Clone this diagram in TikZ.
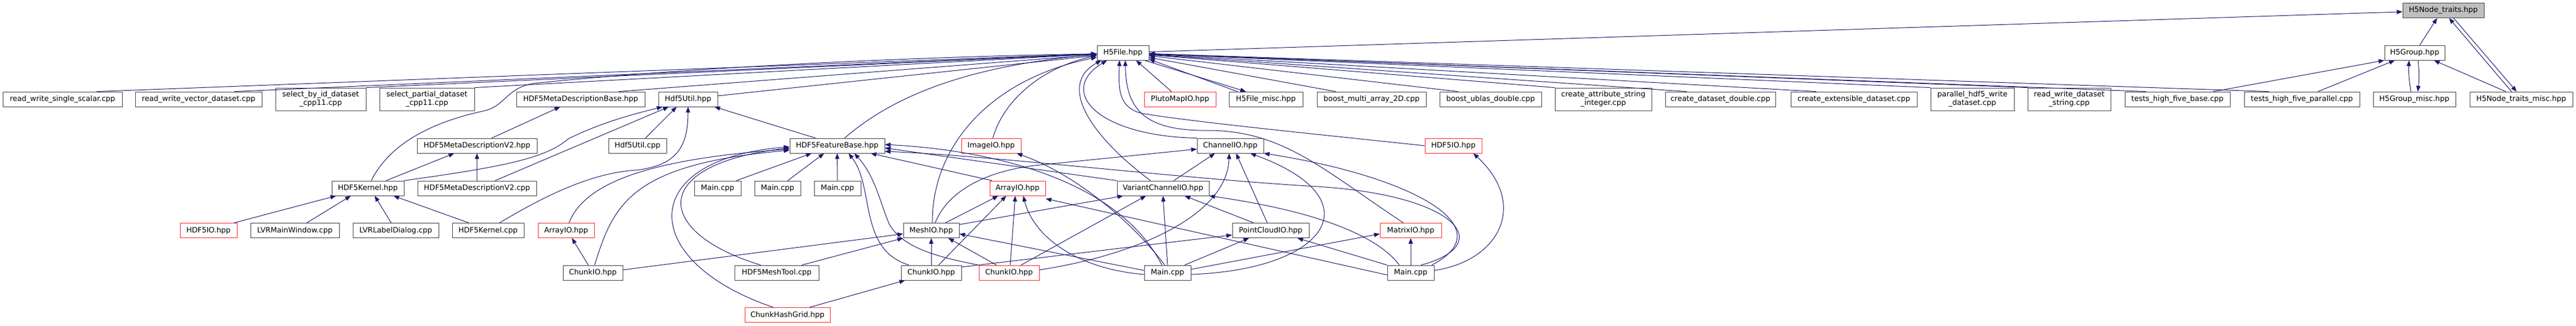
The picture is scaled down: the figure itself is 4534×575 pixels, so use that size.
\documentclass[tikz,border=0pt]{standalone}
\usepackage{fontspec}
\setmainfont{DejaVu Sans}
\usetikzlibrary{arrows.meta}
\definecolor{edgeblue}{RGB}{25,25,112}
\definecolor{boxgray}{RGB}{64,64,64}
\definecolor{curfill}{RGB}{191,191,191}
\definecolor{truncred}{RGB}{255,40,40}
\begin{document}
\begin{tikzpicture}[x=1pt,y=1pt,
  box/.style={draw=boxgray, fill=white, line width=0.9pt, minimum height=26pt, inner sep=0pt,
              font=\fontsize{13}{15}\selectfont, align=center},
  redbox/.style={box, draw=truncred},
  twoline/.style={minimum height=40pt},
  e/.style={draw=edgeblue, line width=1pt, -{Triangle[length=10pt,width=7.5pt]}}]
\useasboundingbox (0,0) rectangle (4534,-575);
\fill[white] (0,0) rectangle (4534,-575);

% row 0
\node[box, fill=curfill, minimum width=143pt] (traits) at (4300.5,-18.5) {H5Node\_traits.hpp};
% row 1
\node[box, minimum width=91pt] (H5File) at (1976.5,-93) {H5File.hpp};
\node[box, minimum width=106pt] (H5Group) at (4250,-93) {H5Group.hpp};
% row 2
\node[box, minimum width=210pt] (rwss) at (110,-175) {read\_write\_single\_scalar.cpp};
\node[box, minimum width=223pt] (rwvd) at (349.5,-175) {read\_write\_vector\_dataset.cpp};
\node[box, twoline, minimum width=159pt] (sbid) at (564.5,-175) {select\_by\_id\_dataset\\\_cpp11.cpp};
\node[box, twoline, minimum width=167pt] (spd) at (751.5,-175) {select\_partial\_dataset\\\_cpp11.cpp};
\node[box, minimum width=226pt] (Base) at (1022,-175) {HDF5MetaDescriptionBase.hpp};
\node[box, minimum width=104pt] (Util) at (1211,-175) {Hdf5Util.hpp};
\node[redbox, minimum width=126pt] (Pluto) at (2077,-175) {PlutoMapIO.hpp};
\node[box, minimum width=130pt] (Fmisc) at (2228,-175) {H5File\_misc.hpp};
\node[box, minimum width=192pt] (bma) at (2414,-175) {boost\_multi\_array\_2D.cpp};
\node[box, minimum width=179pt] (bud) at (2623.5,-175) {boost\_ublas\_double.cpp};
\node[box, twoline, minimum width=170pt] (cas) at (2822,-175) {create\_attribute\_string\\\_integer.cpp};
\node[box, minimum width=194pt] (cdd) at (3028,-175) {create\_dataset\_double.cpp};
\node[box, minimum width=222pt] (ced) at (3263,-175) {create\_extensible\_dataset.cpp};
\node[box, twoline, minimum width=147pt] (phw) at (3471.5,-175) {parallel\_hdf5\_write\\\_dataset.cpp};
\node[box, twoline, minimum width=146pt] (rwds) at (3642,-175) {read\_write\_dataset\\\_string.cpp};
\node[box, minimum width=185pt] (thfb) at (3832.5,-175) {tests\_high\_five\_base.cpp};
\node[box, minimum width=203pt] (thfp) at (4051.5,-175) {tests\_high\_five\_parallel.cpp};
\node[box, minimum width=145pt] (Gmisc) at (4249.5,-175) {H5Group\_misc.hpp};
\node[box, minimum width=181pt] (Tmisc) at (4437.5,-175) {H5Node\_traits\_misc.hpp};
% row 3
\node[box, minimum width=211pt] (V2hpp) at (839.5,-257) {HDF5MetaDescriptionV2.hpp};
\node[box, minimum width=102pt] (Utilcpp) at (1122,-257) {Hdf5Util.cpp};
\node[box, minimum width=167pt] (FB) at (1473.5,-257) {HDF5FeatureBase.hpp};
\node[redbox, minimum width=105pt] (ImageIO) at (1744.5,-257) {ImageIO.hpp};
\node[box, minimum width=117pt] (ChannelIO) at (2165.5,-257) {ChannelIO.hpp};
\node[redbox, minimum width=100pt] (IOR) at (2558,-257) {HDF5IO.hpp};
% row 4
\node[box, minimum width=127pt] (Kern) at (647.5,-332) {HDF5Kernel.hpp};
\node[box, minimum width=209pt] (V2cpp) at (839.5,-332) {HDF5MetaDescriptionV2.cpp};
\node[box, minimum width=82pt] (MainA) at (1263,-332) {Main.cpp};
\node[box, minimum width=81pt] (MainB) at (1368.5,-332) {Main.cpp};
\node[box, minimum width=82pt] (MainC) at (1474,-332) {Main.cpp};
\node[redbox, minimum width=98pt] (ArrM) at (1791,-332) {ArrayIO.hpp};
\node[box, minimum width=162pt] (VCIO) at (2047,-332) {VariantChannelIO.hpp};
% row 5
\node[redbox, minimum width=100pt] (IOL) at (367,-406.5) {HDF5IO.hpp};
\node[box, minimum width=156pt] (LVRMW) at (519,-406.5) {LVRMainWindow.cpp};
\node[box, minimum width=151pt] (LVRLD) at (696.5,-406.5) {LVRLabelDialog.cpp};
\node[box, minimum width=126pt] (Kcpp) at (859,-406.5) {HDF5Kernel.cpp};
\node[redbox, minimum width=99pt] (ArrL) at (996.5,-406.5) {ArrayIO.hpp};
\node[box, minimum width=98pt] (Mesh) at (1639,-406.5) {MeshIO.hpp};
\node[box, minimum width=135pt] (PCIO) at (2236.5,-406.5) {PointCloudIO.hpp};
\node[redbox, minimum width=108pt] (Matrix) at (2483,-406.5) {MatrixIO.hpp};
% row 6
\node[box, minimum width=105pt] (ChL) at (1043.5,-481) {ChunkIO.hpp};
\node[box, minimum width=148pt] (MTool) at (1367,-481) {HDF5MeshTool.cpp};
\node[box, minimum width=106pt] (ChM) at (1639,-481) {ChunkIO.hpp};
\node[redbox, minimum width=106pt] (ChR) at (1776,-481) {ChunkIO.hpp};
\node[box, minimum width=82pt] (MainM) at (2055,-481) {Main.cpp};
\node[box, minimum width=82pt] (MainR) at (2483,-481) {Main.cpp};
% row 7
\node[redbox, minimum width=150pt] (CHG) at (1386,-555.5) {ChunkHashGrid.hpp};

% ---------- top part
\draw[e] (H5File) -- (traits);
\draw[e] ([xshift=9pt]H5Group.north) -- ([xshift=-11pt]traits.south);
\draw[e] ([xshift=-17pt]Tmisc.north) -- ([xshift=10pt]traits.south);
\draw[e] ([xshift=18pt]traits.south) -- ([xshift=-8pt]Tmisc.north);
\draw[e] ([xshift=-30pt]thfb.north east) -- (H5Group.south west);
\draw[e] ([xshift=28pt]thfp.north) -- ([xshift=-35pt]H5Group.south);
\draw[e] ([xshift=-6pt]Gmisc.north) to[bend left=6] ([xshift=-10pt]H5Group.south);
\draw[e] ([xshift=6pt]H5Group.south) to[bend left=6] ([xshift=6pt]Gmisc.north);
\draw[e] ([xshift=-27pt]Tmisc.north) -- ([xshift=34pt]H5Group.south);

% ---------- fans into H5File
\draw[e] ([xshift=60pt]rwss.north) -- (H5File);
\draw[e] ([xshift=63pt]rwvd.north) -- (H5File);
\draw[e] (sbid.north east) -- (H5File);
\draw[e] (spd.north east) -- (H5File);
\draw[e] ([xshift=67pt]Base.north) -- (H5File);
\draw[e] ([yshift=6pt]Util.east) -- (H5File);
\draw[e] ([xshift=-15pt]Pluto.north) -- ([xshift=23pt]H5File.south);
\draw[e] ([xshift=-50pt]Fmisc.north) -- ([yshift=2pt]H5File.south east);
\draw[e] ([xshift=-8pt]H5File.south east) -- ([xshift=-35pt]Fmisc.north);
\draw[e] ([xshift=-63pt]bma.north) -- (H5File);
\draw[e] ([xshift=-57pt]bud.north) -- (H5File);
\draw[e] (cas.north west) -- (H5File);
\draw[e] ([xshift=-59pt]cdd.north) -- (H5File);
\draw[e] ([xshift=-66pt]ced.north) -- (H5File);
\draw[e] (phw.north west) -- (H5File);
\draw[e] (rwds.north west) -- (H5File);
\draw[e] ([xshift=-55pt]thfb.north) -- (H5File);
\draw[e] ([xshift=-58pt]thfp.north) -- (H5File);

% ---------- curves into H5File from below
\draw[e] ([xshift=6pt]Kern.north) .. controls (680,-265) and (740,-220) .. (850,-196)
   .. controls (890,-188) and (890,-155) .. (940,-147)
   .. controls (1200,-120) and (1600,-100) .. ([yshift=-2pt]H5File.west);
\draw[e] ([xshift=13pt]FB.north) .. controls (1560,-180) and (1680,-118) .. ([yshift=-3pt]H5File.west);
\draw[e] ([xshift=3pt]ImageIO.north) .. controls (1765,-180) and (1830,-120) .. ([yshift=-5pt]H5File.west);
\draw[e] ([xshift=2pt]Mesh.north) .. controls (1640,-260) and (1740,-140) .. ([yshift=-8pt]H5File.west);
\draw[e] ([xshift=-22pt]VCIO.north) .. controls (1920,-240) and (1860,-150) .. ([xshift=-38pt]H5File.south);
\draw[e] (ChannelIO.north west) .. controls (1930,-240) and (1860,-160) .. ([xshift=-28pt]H5File.south);
\draw[e] (IOR.west) .. controls (2300,-235) and (2100,-215) .. (2010,-200)
   .. controls (1970,-190) and (1968,-160) .. ([xshift=-6pt]H5File.south);
\draw[e] ([xshift=-13pt]Matrix.north) .. controls (2330,-300) and (2260,-232) .. (2130,-230)
   .. controls (2010,-232) and (1982,-190) .. ([xshift=4pt]H5File.south);

% ---------- left lower part
\draw[e] ([xshift=32pt]Kern.north) -- ([xshift=-40pt]V2hpp.south);
\draw[e] (Kern.north east) .. controls (880,-295) and (960,-280) .. (1000,-245)
   .. controls (1060,-215) and (1120,-200) .. ([xshift=-45pt]Util.south);
\draw[e] ([xshift=26pt]V2hpp.north) -- ([xshift=-36pt]Base.south);
\draw[e] (V2cpp.north) -- (V2hpp.south);
\draw[e] ([xshift=32pt]V2cpp.north) -- ([xshift=-34pt]Util.south);
\draw[e] ([xshift=14pt]Utilcpp.north) -- ([xshift=-20pt]Util.south);
\draw[e] ([xshift=20pt]Kcpp.north) .. controls (960,-345) and (1040,-305) .. (1120,-300)
   .. controls (1190,-292) and (1211,-260) .. (Util.south);
\draw[e] ([xshift=-38pt]FB.north) -- ([xshift=-6pt]Util.south east);
\draw[e] ([xshift=45pt]IOL.north) -- ([xshift=-56pt]Kern.south);
\draw[e] ([xshift=21pt]LVRMW.north) -- ([xshift=-30pt]Kern.south);
\draw[e] ([xshift=-8pt]LVRLD.north) -- ([xshift=12pt]Kern.south);
\draw[e] ([xshift=-34pt]Kcpp.north) -- ([xshift=45pt]Kern.south);

% ---------- into HDF5FeatureBase
\draw[e] ([xshift=5pt]ArrL.north) .. controls (1030,-320) and (1150,-280) .. ([yshift=-6pt]FB.west);
\draw[e] ([xshift=3pt]ChL.north) .. controls (1080,-360) and (1110,-290) .. ([yshift=-8pt]FB.west);
\draw[e] ([xshift=-28pt]MTool.north) .. controls (1150,-410) and (1140,-290) .. ([yshift=-4pt]FB.west);
\draw[e] ([xshift=-25pt]CHG.north) .. controls (1120,-460) and (1120,-280) .. ([yshift=-2pt]FB.west);
\draw[e] ([xshift=33pt]MainA.north) -- ([xshift=-45pt]FB.south);
\draw[e] ([xshift=18pt]MainB.north) -- ([xshift=-23pt]FB.south);
\draw[e] (MainC.north) -- (FB.south);
\draw[e] ([xshift=-39pt]ChM.north) .. controls (1510,-440) and (1540,-330) .. ([xshift=20pt]FB.south);
\draw[e] (ChR.north west) .. controls (1660,-455) and (1590,-440) .. (1565,-395)
   .. controls (1550,-360) and (1540,-310) .. ([xshift=30pt]FB.south);
\draw[e] ([xshift=-45pt]ArrM.north) -- ([xshift=-25pt]FB.south east);
\draw[e] (VCIO.north west) -- ([yshift=-4pt]FB.east);
\draw[e] ([xshift=-10pt]MainM.north) .. controls (1960,-300) and (1700,-262) .. ([yshift=2pt]FB.east);
\draw[e] ([xshift=18pt]MainR.north) .. controls (2640,-430) and (2560,-340) .. (2300,-328)
   .. controls (2050,-312) and (1750,-275) .. ([yshift=-10pt]FB.east);

% ---------- MeshIO
\draw[e] ([xshift=25pt]Mesh.north) -- ([xshift=-34pt]ArrM.south);
\draw[e] ([yshift=-3pt]Mesh.north east) -- ([xshift=-70pt]VCIO.south);
\draw[e] ([xshift=7pt]Mesh.north) .. controls (1665,-345) and (1720,-305) .. (1820,-292) -- ([yshift=-6pt]ChannelIO.west);
\draw[e] ([yshift=5pt]ChL.east) -- ([yshift=-6pt]Mesh.west);
\draw[e] ([xshift=44pt]MTool.north) -- (Mesh.south west);
\draw[e] (ChM.north) -- (Mesh.south);
\draw[e] ([xshift=-22pt]ChR.north) -- ([xshift=30pt]Mesh.south);

% ---------- ChunkIO and ArrayIO
\draw[e] ([xshift=-8pt]ChL.north) -- ([xshift=10pt]ArrL.south);
\draw[e] ([xshift=13pt]ChM.north) -- ([xshift=-20pt]ArrM.south);
\draw[e] ([xshift=2pt]ChR.north) -- ([xshift=-4pt]ArrM.south);
\draw[e] ([xshift=39pt]CHG.north) -- ([xshift=-46pt]ChM.south);
\draw[e] ([yshift=10pt]ChM.east) -- ([yshift=-8pt]PCIO.west);
\draw[e] ([xshift=21pt]ChR.north) -- ([xshift=-30pt]VCIO.south);
\draw[e] ([yshift=5pt]ChR.east) .. controls (2000,-450) and (2160,-380) .. ([xshift=-2pt]ChannelIO.south);

% ---------- VariantChannelIO, PointCloudIO
\draw[e] ([xshift=19pt]VCIO.north) -- ([xshift=-27pt]ChannelIO.south);
\draw[e] ([xshift=-30pt]PCIO.north) -- ([xshift=38pt]VCIO.south);
\draw[e] ([xshift=-6pt]PCIO.north) -- ([xshift=10pt]ChannelIO.south);

% ---------- Main.cpp (middle)
\draw[e] ([yshift=4pt]MainM.west) -- ([yshift=-6pt]Mesh.east);
\draw[e] ([yshift=-3pt]MainM.west) .. controls (1900,-475) and (1820,-420) .. ([xshift=10pt]ArrM.south);
\draw[e] (MainM.north) -- (VCIO.south);
\draw[e] ([xshift=30pt]MainM.north) -- ([xshift=-38pt]PCIO.south);
\draw[e] ([yshift=-3pt]MainM.east) .. controls (2340,-475) and (2420,-350) .. ([xshift=35pt]ChannelIO.south);
\draw[e] ([yshift=6pt]MainM.east) -- ([yshift=-6pt]Matrix.west);
\draw[e] ([xshift=-5pt]MainM.north) .. controls (2000,-400) and (1900,-310) .. ([xshift=45pt]ImageIO.south);

% ---------- Main.cpp (right)
\draw[e] (MainR.north) -- (Matrix.south);
\draw[e] (MainR.north west) -- ([xshift=47pt]PCIO.south);
\draw[e] ([xshift=-20pt]MainR.north) .. controls (2420,-410) and (2300,-370) .. (VCIO.south east);
\draw[e] ([xshift=37pt]MainR.north) .. controls (2650,-400) and (2480,-310) .. (ChannelIO.south east);
\draw[e] ([yshift=4pt]MainR.east) .. controls (2640,-460) and (2690,-360) .. ([xshift=35pt]IOR.south);
\draw[e] ([yshift=-4pt]MainR.west) -- ([yshift=-5pt]ArrM.south east);
\end{tikzpicture}
\end{document}
